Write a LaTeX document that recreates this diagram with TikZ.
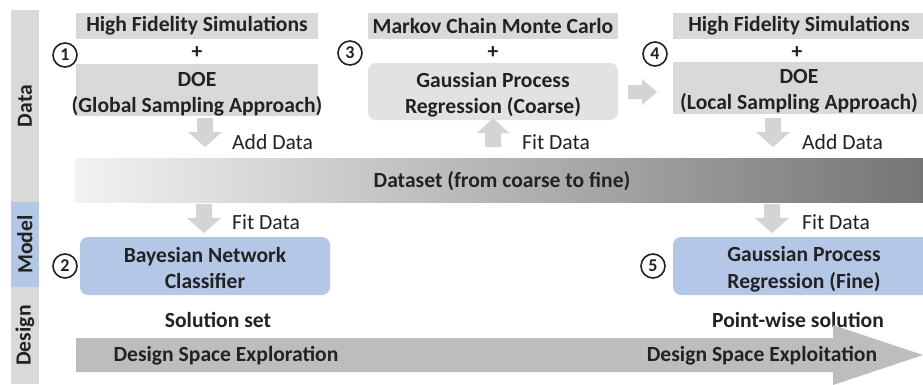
\documentclass[tikz,border=0pt]{standalone}
\usepackage{fontspec}
\setmainfont{Carlito}
\definecolor{boxgray}{HTML}{D9D9D9}
\definecolor{lightbox}{HTML}{E2E2E2}
\definecolor{bluebox}{HTML}{B4C7E7}
\definecolor{arrgray}{HTML}{D4D4D4}
\definecolor{bigarr}{HTML}{BDBDBD}
\definecolor{txt}{HTML}{222222}
\tikzset{
  bfont/.style={font=\bfseries\fontsize{21.6}{26.5}\selectfont},
  rfont/.style={font=\fontsize{21.6}{26.5}\selectfont},
  sqbox/.style={fill=boxgray, draw=none, inner sep=0pt, text=txt, bfont, align=center},
  rbox/.style={draw=none, rounded corners=8pt, inner sep=0pt, text=txt, bfont, align=center},
  lane/.style={draw=none, inner sep=0pt},
  lanetext/.style={rotate=90, text=txt, bfont},
  numc/.style={circle, draw=txt, line width=1.6pt, minimum size=24pt, inner sep=0pt, text=txt, font=\bfseries\fontsize{18}{18}\selectfont},
  lbl/.style={text=txt, rfont, anchor=west, inner sep=0pt},
  btxt/.style={text=txt, bfont, inner sep=0pt, align=center},
  downarr/.pic={\fill[arrgray] (-8,0) -- (8,0) -- (8,14) -- (17,14) -- (0,29) -- (-17,14) -- (-8,14) -- cycle;},
  uparr/.pic={\fill[arrgray] (-8,29) -- (8,29) -- (8,15) -- (16,15) -- (0,0) -- (-16,15) -- (-8,15) -- cycle;},
  rightarr/.pic={\fill[arrgray] (0,-7) -- (14,-7) -- (14,-13) -- (29,0) -- (14,13) -- (14,7) -- (0,7) -- cycle;}
}
\begin{document}
\begin{tikzpicture}[x=1pt,y=-1pt]
\useasboundingbox (0,0) rectangle (923,384);
\fill[white] (0,0) rectangle (923,384);

% lanes
\node[lane, fill=boxgray, minimum width=28pt, minimum height=192pt] (laneD) at (25,106) {};
\node[lane, fill=bluebox, minimum width=28pt, minimum height=85pt] (laneM) at (25,244.5) {};
\node[lane, fill=boxgray, minimum width=28pt, minimum height=97pt] (laneX) at (25,335.5) {};
\node[lanetext] (tD) at (laneD) {Data};
\node[lanetext] (tM) at (laneM) {Model};
\node[lanetext] (tX) at (laneX) {Design};

% dataset gradient bar
\shade[left color=black!5, right color=black!54] (75,158) rectangle (923,202);
\node[btxt] (ds) at (502,181) {Dataset (from coarse to fine)};

% step 1
\node[sqbox, minimum width=242pt, minimum height=26pt] (b1a) at (197,26) {High Fidelity Simulations};
\node[btxt] (p1) at (197,53) {+};
\node[sqbox, minimum width=242pt, minimum height=52pt] (b1b) at (197,90) {};
\node[btxt] (b1bt) at (197,94) {DOE\\(Global Sampling Approach)};
\node[numc] (n1) at (65,55) {1};

% step 3
\node[sqbox, minimum width=250pt, minimum height=26pt] (b3a) at (493,26) {Markov Chain Monte Carlo};
\node[btxt] (p3) at (493,53) {+};
\node[rbox, fill=lightbox, minimum width=250pt, minimum height=57pt] (b3b) at (493,91.5) {};
\node[btxt] (b3bt) at (493,94.5) {Gaussian Process\\Regression (Coarse)};
\node[numc] (n3) at (350,53) {3};

% step 4
\node[sqbox, minimum width=252pt, minimum height=26pt] (b4a) at (799,26) {High Fidelity Simulations};
\node[btxt] (p4) at (797,53) {+};
\node[sqbox, minimum width=252pt, minimum height=52pt] (b4b) at (799,88) {};
\node[btxt] (b4bt) at (799,91) {DOE\\(Local Sampling Approach)};
\node[numc] (n4) at (655,54) {4};

% step 2
\node[rbox, fill=bluebox, minimum width=250pt, minimum height=58pt] (b2) at (205,266) {};
\node[btxt] (b2t) at (205,268) {Bayesian Network\\Classifier};
\node[numc] (n2) at (65,266) {2};

% step 5
\node[rbox, fill=bluebox, minimum width=262pt, minimum height=58pt] (b5) at (804,266) {};
\node[btxt] (b5t) at (804,269) {Gaussian Process\\Regression (Fine)};
\node[numc] (n5) at (653,266) {5};

% block arrows
\pic at (205,118) {downarr};
\pic at (773,118) {downarr};
\pic at (204,204) {downarr};
\pic at (772,204) {downarr};
\pic at (493,118) {uparr};
\pic at (628,92) {rightarr};

% arrow labels
\node[lbl] (l1) at (232,142) {Add Data};
\node[lbl] (l3) at (522,142) {Fit Data};
\node[lbl] (l4) at (802,142) {Add Data};
\node[lbl] (l2) at (232,222) {Fit Data};
\node[lbl] (l5) at (802,222) {Fit Data};

% design row
\node[btxt] (sol1) at (218,320) {Solution set};
\node[btxt] (sol2) at (798,320) {Point-wise solution};
\fill[bigarr] (76,338) -- (833,338) -- (833,325) -- (923,355) -- (833,385) -- (833,372) -- (76,372) -- cycle;
\node[btxt] (exp1) at (226,356) {Design Space Exploration};
\node[btxt] (exp2) at (762,356) {Design Space Exploitation};
\end{tikzpicture}
\end{document}
